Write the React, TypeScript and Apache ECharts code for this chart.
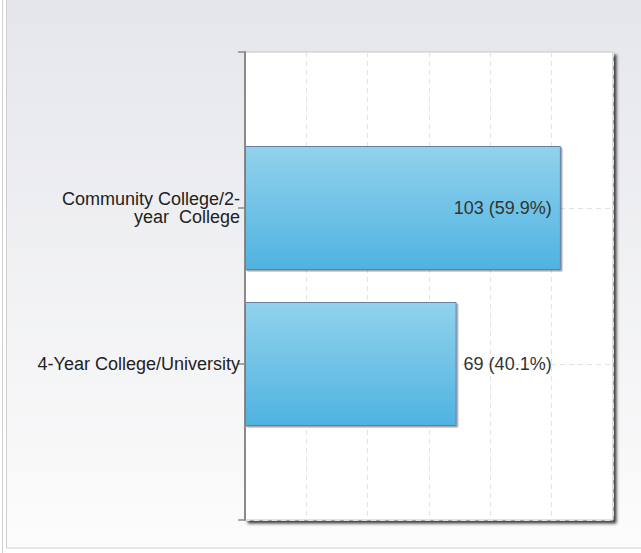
import React, { useEffect, useRef } from "react";
import * as echarts from "echarts";

const categories = ["", "Community College/2-\nyear  College", "4-Year College/University", ""];
const counts = [103, 69];
const percents = ["59.9%", "40.1%"];
const xTicks = { min: 0, max: 120, interval: 20 };

export default function App() {
  const ref = useRef<HTMLDivElement>(null);
  useEffect(() => {
    document.body.style.margin = "0";
    const chart = echarts.init(ref.current!, undefined, { renderer: "svg" });
    const seriesData: any[] = ["-"];
    counts.forEach((v, i) => {
      const inside = i === 0;
      seriesData.push({
        value: v,
        label: {
          show: true,
          position: inside ? "insideRight" : "right",
          distance: inside ? 9 : 7,
          formatter: `${v} (${percents[i]})`,
        },
      });
    });
    seriesData.push("-");
    chart.setOption({
      animation: false,
      graphic: [
        {
          type: "line",
          shape: { x1: 2.5, y1: 0, x2: 2.5, y2: 553 },
          style: { stroke: "#cfcfcf", lineWidth: 1 },
          z: -10,
        },
        {
          type: "rect",
          shape: { x: 6.5, y: -1, width: 640, height: 549 },
          style: {
            fill: new echarts.graphic.LinearGradient(0, 0, 0, 1, [
              { offset: 0, color: "#e5e6eb" },
              { offset: 1, color: "#fcfcfc" },
            ]),
            stroke: "#d0d0d0",
            lineWidth: 1,
          },
          z: -10,
        },
      ],
      grid: {
        left: 245,
        top: 52,
        width: 368,
        height: 468,
        show: true,
        backgroundColor: "#ffffff",
        borderColor: "#c4c4c4",
        borderWidth: 1,
        shadowColor: "rgba(0,0,0,0.75)",
        shadowBlur: 3,
        shadowOffsetX: 3,
        shadowOffsetY: 3,
      },
      xAxis: {
        type: "value",
        min: xTicks.min,
        max: xTicks.max,
        interval: xTicks.interval,
        axisLabel: { show: false },
        axisLine: { show: false },
        axisTick: { show: false },
        splitLine: { show: true, lineStyle: { color: "#e2e2e2", type: [5, 4], width: 1 } },
      },
      yAxis: {
        type: "category",
        inverse: true,
        boundaryGap: false,
        data: categories,
        axisLine: { show: true, lineStyle: { color: "#8a8a8a", width: 2 } },
        axisTick: { show: true, length: 7, lineStyle: { color: "#8a8a8a", width: 1.5 } },
        axisLabel: {
          margin: 5,
          fontSize: 18,
          lineHeight: 18,
          color: "#222",
          fontFamily: "Liberation Sans, Arial, sans-serif",
          align: "right",
        },
        splitLine: { show: true, lineStyle: { color: "#e2e2e2", type: [5, 4], width: 1 } },
      },
      series: [
        {
          type: "bar",
          data: seriesData,
          barWidth: 124,
          itemStyle: {
            color: new echarts.graphic.LinearGradient(0, 0, 0, 1, [
              { offset: 0, color: "#92d2ec" },
              { offset: 1, color: "#4fb3e1" },
            ]),
            borderColor: "#6680a6",
            borderWidth: 1,
            shadowColor: "rgba(0,0,0,0.35)",
            shadowOffsetX: 1.5,
            shadowOffsetY: 1.5,
            shadowBlur: 1,
          },
          label: {
            color: "#333",
            fontSize: 18,
            fontFamily: "Liberation Sans, Arial, sans-serif",
          },
        },
      ],
    });
    return () => chart.dispose();
  }, []);
  return <div ref={ref} style={{ width: 641, height: 553 }} />;
}
